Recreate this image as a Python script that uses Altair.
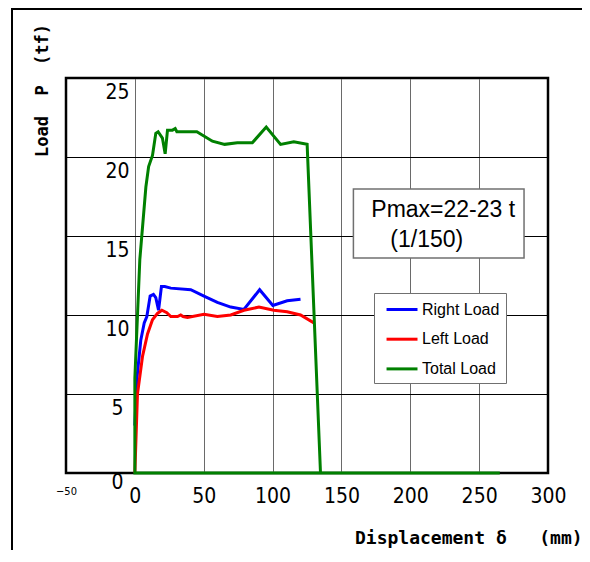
import altair as alt
import pandas as pd

# ---------------- data ----------------
SERIES = ["Right Load", "Left Load", "Total Load"]
COLORS = ["#0000FF", "#FF0000", "#008000"]

RIGHT_X = [0, 1.4, 4.3, 6.8, 8.7, 11.1, 13.5, 15.2, 17.2, 19.3, 21.7, 26.1, 40.6,
           50.2, 59.9, 69.6, 79.2, 90.6, 100.2, 110.6, 120.3]
RIGHT_Y = [3.0, 5.9, 8.4, 9.5, 9.9, 11.2, 11.3, 11.1, 10.3, 11.8, 11.8, 11.7, 11.6,
           11.2, 10.8, 10.5, 10.35, 11.6, 10.6, 10.9, 11.0]

LEFT_X = [0, 1.9, 5.6, 9.2, 12.8, 16.4, 19.6, 23.2, 26.1, 31.0, 33.3, 35.0, 38.2,
          50.2, 59.9, 69.6, 79.2, 90.1, 100.9, 110.6, 120.3, 130.0]
LEFT_Y = [0, 5.0, 7.4, 8.8, 9.7, 10.1, 10.3, 10.15, 9.9, 9.9, 10.0, 9.9, 9.85,
          10.04, 9.9, 10.0, 10.3, 10.5, 10.3, 10.2, 10.0, 9.5]

TOTAL_X = [265, 0, 0, 3.6, 8.0, 10.0, 12.8, 15.2, 16.9, 20.0, 22.0, 23.7, 27.3, 29.3,
           30.5, 45.0, 56.3, 65.2, 74.4, 85.3, 95.4, 105.8, 115.4, 125.1, 134.8]
TOTAL_Y = [0, 0, 6.0, 13.5, 18.1, 19.4, 20.1, 21.5, 21.6, 21.2, 20.2, 21.7, 21.7, 21.8,
           21.6, 21.6, 21.0, 20.8, 20.9, 20.9, 21.9, 20.8, 20.97, 20.8, 0]

X_TICKS = [-50, 0, 50, 100, 150, 200, 250, 300]
Y_TICKS = [0, 5, 10, 15, 20, 25]

ANNOT_TEXT = ["Pmax=22-23 t", "(1/150)"]
ANNOT_X = [171.7, 185.5]
ANNOT_Y = [16.18, 14.32]
BOX_X = [158.7, 282.6]
BOX_Y = [13.6, 17.97]

NB = "\u00a0"
X_TITLE = "Displacement" + NB + "δ" + NB * 3 + "(mm)"
Y_TITLE = "Load" + NB * 2 + "P" + NB * 2 + "(tf)"

# ---------------- build tables ----------------
rows = []
for name, xs, ys in zip(SERIES, [RIGHT_X, LEFT_X, TOTAL_X], [RIGHT_Y, LEFT_Y, TOTAL_Y]):
    for i, (xv, yv) in enumerate(zip(xs, ys)):
        rows.append({"series": name, "x": xv, "y": yv, "order": i})
df = pd.DataFrame(rows)

box_df = pd.DataFrame({"x1": [BOX_X[0]], "x2": [BOX_X[1]], "y1": [BOX_Y[0]], "y2": [BOX_Y[1]]})
annot_df = pd.DataFrame({"x": ANNOT_X, "y": ANNOT_Y, "t": ANNOT_TEXT})

NARROW = "Liberation Sans Narrow, DejaVu Sans Condensed, sans-serif"
xscale = alt.Scale(domain=[-50, 300], nice=False, zero=False)
yscale = alt.Scale(domain=[0, 25], nice=False)

x_axis = alt.Axis(
    values=X_TICKS, title=None, domain=False, ticks=False, tickSize=0,
    labelPadding=12.5, labelFont=NARROW, labelColor="black",
    labelFontSize={"condition": {"test": "datum.value < 0", "value": 11}, "value": 21},
    labelFlush=False, labelOverlap=False,
    gridColor={"condition": {"test": "datum.value == -50 || datum.value == 300", "value": "black"},
               "value": "#6a6a6a"},
    gridWidth=1, gridOpacity=1,
)
y_axis = alt.Axis(
    values=Y_TICKS, title=None, domain=False, ticks=False, tickSize=0,
    labelPadding=-51, labelAlign="center", labelBaseline="top",
    labelOffset={"condition": {"test": "datum.value == 0", "value": -2}, "value": 3},
    labelFont=NARROW, labelFontSize=21, labelColor="black",
    labelFlush=False, labelOverlap=False,
    gridColor="black", gridWidth=1, gridOpacity=1,
)

lines = alt.Chart(df).mark_line(strokeWidth=3).encode(
    x=alt.X("x:Q", scale=xscale, axis=x_axis),
    y=alt.Y("y:Q", scale=yscale, axis=y_axis),
    color=alt.Color(
        "series:N",
        scale=alt.Scale(domain=SERIES, range=COLORS),
        legend=alt.Legend(
            orient="none", legendX=308, legendY=215, title=None,
            symbolType="M-0.44,0H3", symbolSize=324, symbolStrokeWidth=3,
            labelOffset=21, rowPadding=10.7, padding=6,
            strokeColor="#707070", fillColor="white",
            labelFont="Liberation Sans", labelFontSize=16, labelColor="black",
            labelExpr="datum.label + '    '",
        ),
    ),
    order="order:Q",
)

box = alt.Chart(box_df).mark_rect(fill="white", stroke="#707070", strokeWidth=1.5).encode(
    x=alt.X("x1:Q", scale=xscale, axis=x_axis),
    x2="x2",
    y=alt.Y("y1:Q", scale=yscale, axis=y_axis),
    y2="y2",
)

annot = alt.Chart(annot_df).mark_text(
    align="left", baseline="alphabetic", font="Liberation Sans", fontSize=23, color="black"
).encode(
    x=alt.X("x:Q", scale=xscale, axis=x_axis),
    y=alt.Y("y:Q", scale=yscale, axis=y_axis),
    text="t:N",
)

one = alt.Data(values=[{}])
y_title = alt.Chart(one).mark_text(
    text=Y_TITLE, angle=270, align="center", baseline="middle",
    font="DejaVu Sans Mono", fontWeight="bold", fontSize=17, color="black",
).encode(x=alt.value(-23.5), y=alt.value(12.5))

x_title = alt.Chart(one).mark_text(
    text=X_TITLE, align="left", baseline="middle",
    font="DejaVu Sans Mono", fontWeight="bold", fontSize=18, color="black",
).encode(x=alt.value(289), y=alt.value(461))

border_left = alt.Chart(one).mark_rule(color="black", strokeWidth=2).encode(
    x=alt.value(-54), y=alt.value(-70), y2=alt.value(472))
border_top = alt.Chart(one).mark_rule(color="black", strokeWidth=2).encode(
    x=alt.value(-55), x2=alt.value(516), y=alt.value(-69))

chart = alt.layer(box, lines, annot, y_title, x_title, border_left, border_top).properties(
    width=482, height=395,
    padding={"left": 58, "top": 70, "right": 34, "bottom": 77},
    autosize=alt.AutoSizeParams(type="none"),
    background="white",
).configure_view(stroke="black", strokeWidth=2.5)

chart.save("out.html", embed_options={"renderer": "svg", "actions": False})
